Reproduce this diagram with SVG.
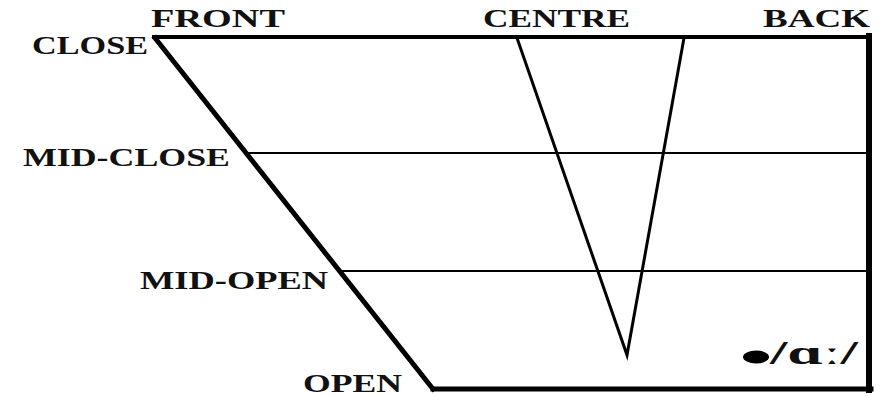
<svg xmlns="http://www.w3.org/2000/svg" width="880" height="396" viewBox="0 0 880 396">
<style>
.lbl{font-family:"Liberation Serif","Times New Roman",serif;font-weight:bold;font-size:25px;fill:#111}
.ln{stroke:#000;fill:none;stroke-linecap:square}
</style>
<rect width="880" height="396" fill="#fff"/>
<g id="chart">
<line class="ln" x1="154" y1="37" x2="869" y2="37" stroke-width="4"/>
<line class="ln" x1="155" y1="38" x2="433" y2="389" stroke-width="5" stroke-linecap="butt"/>
<line class="ln" x1="433" y1="389" x2="871" y2="389" stroke-width="5"/>
<line class="ln" x1="869" y1="36" x2="869" y2="390" stroke-width="6"/>
<line class="ln" x1="246" y1="153" x2="868" y2="153" stroke-width="2" stroke-linecap="butt"/>
<line class="ln" x1="339" y1="271" x2="868" y2="271" stroke-width="2" stroke-linecap="butt"/>
<polyline class="ln" points="517,38 627,355 684,38" stroke-width="3" stroke-linejoin="miter" stroke-linecap="butt"/>
</g>
<g id="labels">
<text class="lbl" x="151" y="27" textLength="134" lengthAdjust="spacingAndGlyphs">FRONT</text>
<text class="lbl" x="483" y="27" textLength="147" lengthAdjust="spacingAndGlyphs">CENTRE</text>
<text class="lbl" x="763" y="27" textLength="107" lengthAdjust="spacingAndGlyphs">BACK</text>
<text class="lbl" x="32" y="54" textLength="116" lengthAdjust="spacingAndGlyphs">CLOSE</text>
<text class="lbl" x="23" y="166" textLength="207" lengthAdjust="spacingAndGlyphs">MID-CLOSE</text>
<text class="lbl" x="140" y="289" textLength="188" lengthAdjust="spacingAndGlyphs">MID-OPEN</text>
<text class="lbl" x="303" y="392" textLength="99" lengthAdjust="spacingAndGlyphs">OPEN</text>
</g>
<g id="vowel">
<ellipse cx="756" cy="357" rx="13" ry="6.5" fill="#000"/>
<text x="770" y="364" font-family="'Liberation Serif','DejaVu Serif',serif" font-weight="bold" font-size="34" fill="#111" textLength="88" lengthAdjust="spacingAndGlyphs">/ɑː/</text>
</g>
</svg>
